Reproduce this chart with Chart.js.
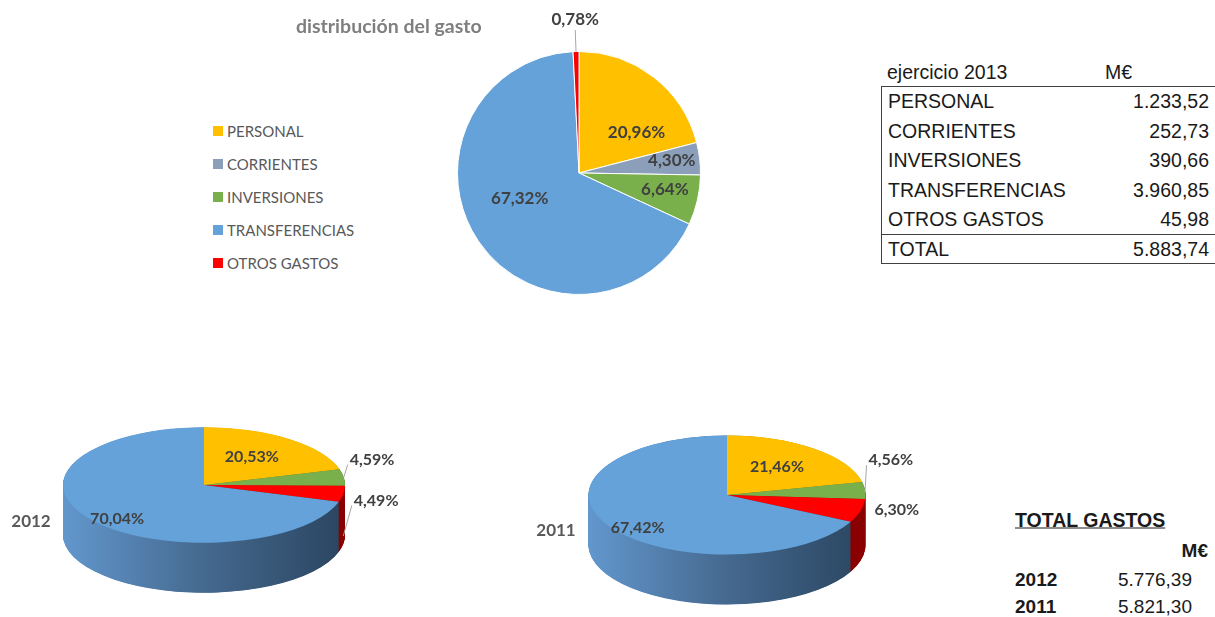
<!DOCTYPE html>
<html>
<head>
<meta charset="utf-8">
<script src="https://cdn.jsdelivr.net/npm/chart.js@4.4.0/dist/chart.umd.min.js"></script>
<style>
body { margin: 0; width: 1215px; height: 617px; background: #fff; position: relative; overflow: hidden; font-family: 'Liberation Sans', Arial, sans-serif; }
.t { position: absolute; white-space: nowrap; line-height: 1; }
.pie { position: absolute; }
</style>
</head>
<body>
<div class="pie" style="left:436px;top:0;width:285px;height:305px"><canvas id="pie2013"></canvas></div>
<div class="pie" style="left:0;top:400px;width:430px;height:217px"><canvas id="pie2012"></canvas></div>
<div class="pie" style="left:520px;top:400px;width:420px;height:217px"><canvas id="pie2011"></canvas></div>
<script>
// datos (M€ y %)
const categories = ['PERSONAL', 'CORRIENTES', 'INVERSIONES', 'TRANSFERENCIAS', 'OTROS GASTOS'];
const colors = ['#ffc000', '#8c9fba', '#79b04c', '#64a2d9', '#ff0000'];
const gasto2013 = [1233.52, 252.73, 390.66, 3960.85, 45.98];
const total2013 = 5883.74;

// los graficos 3D solo traen 4 porciones
const cats3d = ['PERSONAL', 'INVERSIONES', 'OTROS GASTOS', 'TRANSFERENCIAS'];
const colors3d = ['#ffc000', '#79b04c', '#ff0000', '#64a2d9'];
const pct2012 = [20.53, 4.59, 4.49, 70.04];
const pct2011 = [21.46, 4.56, 6.30, 67.42];

const totalYears = ['2012', '2011'];
const totalGastos = [5776.39, 5821.30];

function fmt(v) {
    const parts = v.toFixed(2).split('.');
    return parts[0].replace(/\B(?=(\d{3})+(?!\d))/g, '.') + ',' + parts[1];
}

function txt(s, x, y, css, align) {
    const d = document.createElement('div');
    d.className = 't';
    d.textContent = s;
    d.style.cssText = css || '';
    d.style.left = x + 'px';
    d.style.top = y + 'px';
    if (align === 'right') d.style.transform = 'translate(-100%,-50%)';
    else if (align === 'center') d.style.transform = 'translate(-50%,-50%)';
    else d.style.transform = 'translateY(-50%)';
    document.body.appendChild(d);
    return d;
}

function box(x, y, w, h, css) {
    const d = document.createElement('div');
    d.style.cssText = 'position:absolute;left:' + x + 'px;top:' + y + 'px;width:' + w + 'px;height:' + h + 'px;box-sizing:border-box;' + css;
    document.body.appendChild(d);
}

// titulo + leyenda
txt('distribución del gasto', 296, 25, 'font:bold 19.5px Lato;color:#7f7f7f');
categories.forEach((c, i) => {
    box(213, 126 + i * 33, 10, 10, 'background:' + colors[i]);
    txt(c, 227, 131 + i * 33, 'font:15px Lato;color:#595959');
});

// tabla 2013
const tf = 'font:19.5px "Liberation Sans";color:#1a1a1a';
txt('ejercicio 2013', 887, 72, tf);
txt('M€', 1105, 72, tf);
box(881, 86, 345, 178, 'border:1px solid #404040');
box(881, 234, 340, 1, 'background:#404040');
categories.forEach((c, i) => {
    txt(c, 888, 101 + i * 29.5, tf);
    txt(fmt(gasto2013[i]), 1209, 101 + i * 29.5, tf, 'right');
});
txt('TOTAL', 888, 249, tf);
txt(fmt(total2013), 1209, 249, tf, 'right');

// total gastos
txt('TOTAL GASTOS', 1015, 520, 'font:bold 19.5px "Liberation Sans";color:#1a1a1a;text-decoration:underline');
txt('M€', 1208, 551, 'font:bold 19px "Liberation Sans";color:#1a1a1a', 'right');
totalYears.forEach((y, i) => {
    txt(y, 1015, 580 + i * 27, 'font:bold 19px "Liberation Sans";color:#1a1a1a');
    txt(fmt(totalGastos[i]), 1118, 580 + i * 27, 'font:19px "Liberation Sans";color:#1a1a1a');
});

txt('2012', 31, 520, 'font:bold 17px Lato;color:#595959', 'center');
txt('2011', 556, 529, 'font:bold 17px Lato;color:#595959', 'center');

// aplasta el pastel y le pone el lateral
const tilt3d = {
    id: 'tilt3d',
    beforeDatasetsDraw(chart, args, o) {
        if (!o.k) return;
        const ctx = chart.ctx;
        const arcs = chart.getDatasetMeta(0).data;
        const cx = arcs[0].x, cy = arcs[0].y, r = arcs[0].outerRadius;
        ctx.save();
        ctx.translate(cx, cy);
        ctx.scale(1, o.k);
        ctx.translate(-cx, -cy);
        const grad = ctx.createLinearGradient(cx - r, 0, cx + r, 0);
        grad.addColorStop(0, '#6297cd');
        grad.addColorStop(0.5, '#45698f');
        grad.addColorStop(1, '#2a4560');
        for (let d = o.depth / o.k; d > 0; d -= 1) {
            arcs.forEach((arc, i) => {
                ctx.beginPath();
                ctx.moveTo(arc.x, arc.y + d);
                ctx.arc(arc.x, arc.y + d, arc.outerRadius, arc.startAngle, arc.endAngle);
                ctx.closePath();
                ctx.fillStyle = o.side[i] === 'grad' ? grad : o.side[i];
                ctx.fill();
            });
        }
    },
    afterDatasetsDraw(chart, args, o) {
        if (o.k) chart.ctx.restore();
    },
};

const pieLabels = {
    id: 'pieLabels',
    afterDraw(chart, args, o) {
        const ctx = chart.ctx;
        const ds = chart.data.datasets[0].data;
        const sum = ds.reduce((a, b) => a + b, 0);
        const k = o.k || 1;
        ctx.save();
        ctx.font = 'bold ' + o.size + 'px Lato';
        ctx.textAlign = 'center';
        ctx.textBaseline = 'middle';
        chart.getDatasetMeta(0).data.forEach((arc, i) => {
            const pl = o.place[i];
            const mid = (arc.startAngle + arc.endAngle) / 2;
            const a = mid + (pl[1] * Math.PI) / 180;
            const r = arc.outerRadius;
            const x = arc.x + Math.cos(a) * r * pl[0];
            const y = arc.y + Math.sin(a) * r * pl[0] * k;
            const v = o.pct ? (ds[i] / sum) * 100 : ds[i];
            const s = v.toFixed(2).replace('.', ',') + '%';
            if (pl[2]) {
                const w = ctx.measureText(s).width;
                const sx = arc.x + Math.cos(mid) * r;
                const sy = arc.y + Math.sin(mid) * r * k + (pl[3] || 0);
                ctx.strokeStyle = '#a6a6a6';
                ctx.lineWidth = 1;
                ctx.beginPath();
                ctx.moveTo(sx, sy);
                if (pl[2] === 'below') ctx.lineTo(x, y + 10);
                else ctx.lineTo(x - w / 2 - 2, y + 5);
                ctx.stroke();
            }
            ctx.fillStyle = '#404040';
            ctx.fillText(s, x, y);
        });
        ctx.restore();
    },
};

function makePie(id, labels, data, cols, padding, radius, tilt, lab, border) {
    return new Chart(document.getElementById(id), {
        type: 'pie',
        data: {
            labels: labels,
            datasets: [
                {
                    data: data,
                    backgroundColor: cols,
                    borderColor: '#ffffff',
                    borderWidth: border,
                    radius: radius,
                    clip: false,
                },
            ],
        },
        options: {
            responsive: true,
            maintainAspectRatio: false,
            animation: false,
            layout: { padding: padding },
            plugins: {
                legend: { display: false },
                tooltip: { enabled: false },
                tilt3d: tilt,
                pieLabels: lab,
            },
        },
        plugins: [tilt3d, pieLabels],
    });
}

makePie('pie2013', categories, gasto2013, colors,
    { left: 21, right: 20, top: 51, bottom: 10 }, undefined, {},
    { pct: true, size: 17, place: [[0.58, 17], [0.77, -0.6], [0.72, -1.8], [0.53, 11], [1.26, 0, 'below']] }, 1);

makePie('pie2012', cats3d, pct2012, colors3d,
    { left: 0, right: 22, top: 0, bottom: 47 }, 141,
    { k: 0.41, depth: 50, side: ['#a07a00', '#4d7a30', '#8a0000', 'grad'] },
    { k: 0.41, size: 16, place: [[0.59, -2], [1.27, -12.7, 'left'], [1.25, 3.5, 'left', 42], [0.85, -7]] }, 0);

makePie('pie2011', cats3d, pct2011, colors3d,
    { left: 0, right: 6, top: 0, bottom: 27 }, 138.5,
    { k: 0.43, depth: 50, side: ['#a07a00', '#4d7a30', '#8a0000', 'grad'] },
    { k: 0.43, size: 16, place: [[0.59, -1], [1.32, -22, 'left'], [1.25, -4], [0.85, -9]] }, 0);
</script>
</body>
</html>
